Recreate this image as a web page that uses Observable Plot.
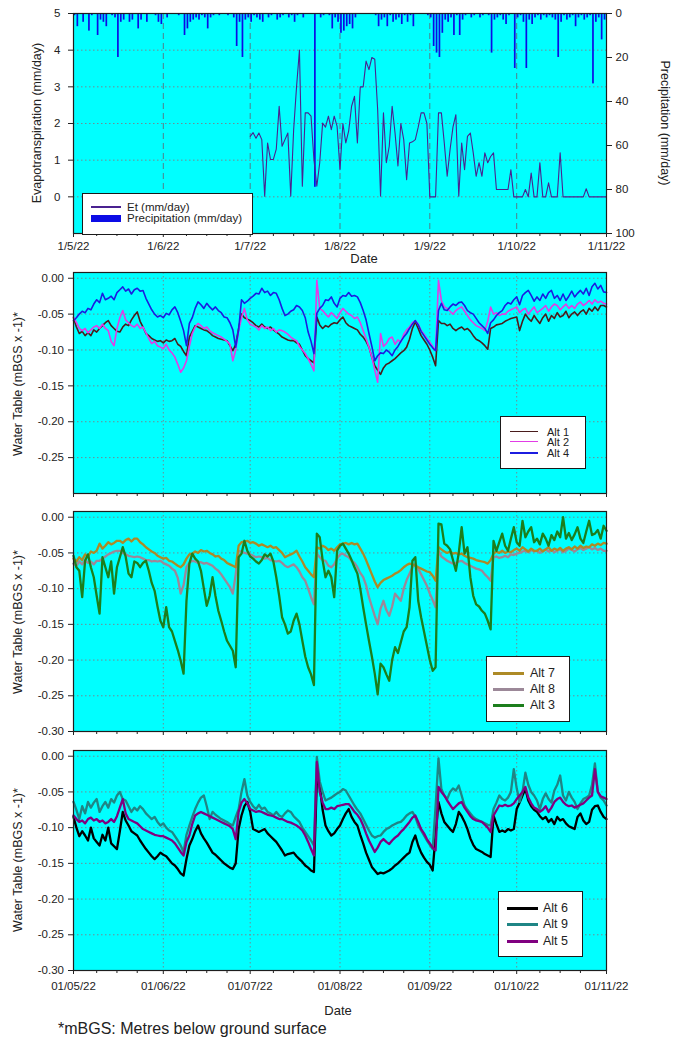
<!DOCTYPE html>
<html>
<head>
<meta charset="utf-8">
<script src="https://cdn.jsdelivr.net/npm/d3@7"></script>
<script src="https://cdn.jsdelivr.net/npm/@observablehq/plot@0.6"></script>
<style>
html,body{margin:0;padding:0;background:#fff;}
#root{position:relative;width:673px;height:1041px;overflow:hidden;font-family:"Liberation Sans",Arial,sans-serif;color:#222;}
.panel{position:absolute;left:0;}
.panel svg{overflow:visible;display:block;}
.lg{position:absolute;background:#fff;border:1px solid #1a1a1a;box-sizing:border-box;}
.lg .sw{position:absolute;}
.lg .tx{position:absolute;line-height:1;white-space:nowrap;transform:translateY(-50%);color:#222;}
.lbl{position:absolute;line-height:1;white-space:nowrap;transform:translate(-50%,-50%);color:#222;}
.cap{position:absolute;line-height:1;white-space:nowrap;color:#222;}
</style>
</head>
<body>
<div id="root"></div>
<script>
// ---------------- DATA ----------------
// daily values from 2022-05-01 (index 0) to 2022-11-01 (index 184)
const monthTicks = ["2022-05-01","2022-06-01","2022-07-01","2022-08-01","2022-09-01","2022-10-01","2022-11-01"];
const minorTickDates = ["2022-05-09","2022-05-16","2022-05-23","2022-06-09","2022-06-16","2022-06-23",
  "2022-07-09","2022-07-16","2022-07-23","2022-08-09","2022-08-16","2022-08-23",
  "2022-09-09","2022-09-16","2022-09-23","2022-10-09","2022-10-16","2022-10-23"];
const etTicks = [0, 1, 2, 3, 4, 5];
const precipTicks = [0, 20, 40, 60, 80, 100];
const wtTicks = [0, -0.05, -0.10, -0.15, -0.20, -0.25, -0.30];

// Evapotranspiration (mm/day), daily from 2022-07-01
const etStart = "2022-07-01";
const et = [
  1.65,1.75,1.6,1.74,1.56,0.02,1.47,1.02,1.02,1.3,
  2.47,1.38,1.56,1.74,0.02,1.83,3.0,4.0,0.29,2.29,
  2.29,2.2,1.02,0.29,0.93,2.01,1.9,2.2,1.83,2.2,
  1.92,0.74,2.0,1.47,1.8,2.47,2.74,1.47,3.0,3.0,
  3.7,3.47,3.8,3.75,2.38,0.02,2.29,0.93,1.38,2.47,
  1.74,0.84,2.0,1.56,0.47,1.47,1.5,1.56,1.9,2.29,
  2.29,2.0,0.0,0.0,0.0,2.29,2.29,1.47,0.56,1.29,
  1.9,2.24,0.02,1.47,0.74,1.65,1.74,1.2,0.56,0.93,
  0.56,1.2,0.93,1.1,1.2,0.2,0.2,0.2,0.2,0.2,
  0.74,0.0,0.0,0.0,0.0,0.2,0.0,0.65,0.0,0.0,
  0.93,0.0,0.0,0.38,0.0,0.0,0.0,1.2,0.0,0.0,
  0,0,0,0,0,0,0.22,0,0,0,
  0,0,0,0
];

// Precipitation (mm/day), daily from 2022-05-01 to 2022-10-31
const precip = [
  1,6,0,4,0,8,1,0,10,3,
  4,6,0,1,2,20,4,3,0,4,
  3,0,7,3,0,4,0,0,1,4,
  5,0,2,0,0,0,1,0,10,7,
  4,3,2,3,1,2,7,2,1,0,
  1,0,0,1,0,2,15,4,20,3,
  2,4,1,2,3,4,0,2,1,0,
  3,2,1,0,2,1,4,1,0,2,
  0,0,0,79,0,2,1,0,1,7,
  2,4,9,8,6,5,7,2,0,0,
  0,0,0,0,1,6,3,2,6,1,
  4,3,2,5,1,4,1,6,0,0,
  0,0,1,2,15,18,20,9,3,4,
  2,10,1,10,3,1,0,2,1,0,
  2,1,0,1,18,3,2,1,3,5,
  1,0,25,2,1,4,25,3,5,2,
  1,3,1,2,1,2,3,20,4,1,
  3,2,1,6,2,1,3,2,1,32,
  4,2,12,3
];

// Water table (mm below ground surface x -1), daily 2022-05-01 .. 2022-11-01
const alt1 = [
  -55,-68,-77,-74,-80,-76,-80,-72,-75,-70,
  -66,-62,-59,-66,-70,-74,-75,-68,-64,-66,
  -58,-52,-47,-60,-68,-77,-80,-84,-86,-88,
  -87,-90,-86,-88,-87,-84,-92,-95,-102,-108,
  -82,-74,-66,-68,-70,-72,-73,-76,-80,-82,
  -84,-85,-86,-87,-94,-101,-92,-70,-50,-55,
  -57,-59,-62,-66,-68,-64,-68,-70,-68,-72,
  -75,-78,-82,-84,-86,-87,-87,-90,-92,-100,
  -108,-112,-115,-118,-54,-65,-70,-66,-68,-64,
  -62,-63,-58,-54,-62,-66,-68,-70,-72,-78,
  -82,-88,-96,-110,-122,-128,-134,-125,-120,-118,
  -115,-112,-108,-104,-101,-96,-85,-70,-61,-70,
  -80,-86,-92,-100,-110,-122,-59,-63,-63,-66,
  -64,-70,-73,-70,-68,-72,-70,-74,-80,-85,
  -87,-90,-94,-99,-70,-68,-65,-64,-63,-60,
  -58,-56,-55,-54,-73,-60,-50,-56,-60,-52,
  -58,-63,-55,-50,-60,-52,-56,-48,-54,-52,
  -46,-55,-50,-47,-52,-47,-44,-50,-42,-46,
  -40,-45,-38,-38,-40
];
const alt2 = [
  -54,-62,-70,-73,-70,-76,-72,-68,-66,-70,
  -64,-70,-73,-88,-94,-70,-55,-45,-58,-62,
  -66,-68,-64,-70,-68,-76,-84,-91,-88,-94,
  -96,-98,-92,-100,-104,-110,-120,-131,-125,-115,
  -95,-77,-68,-63,-66,-70,-68,-73,-76,-78,
  -80,-82,-85,-88,-92,-115,-100,-73,-55,-42,
  -58,-64,-66,-68,-72,-66,-70,-68,-73,-70,
  -75,-72,-73,-75,-78,-82,-85,-87,-95,-100,
  -105,-112,-120,-129,-3,-42,-45,-50,-54,-48,
  -52,-56,-48,-42,-46,-50,-52,-56,-54,-62,
  -73,-84,-96,-110,-128,-145,-77,-95,-91,-84,
  -82,-92,-86,-89,-78,-72,-68,-62,-59,-64,
  -73,-78,-84,-89,-95,-101,-3,-31,-40,-42,
  -46,-50,-45,-42,-40,-46,-52,-58,-62,-66,
  -68,-70,-73,-60,-40,-50,-48,-52,-50,-50,
  -46,-44,-42,-40,-48,-44,-42,-50,-45,-40,
  -48,-45,-42,-38,-46,-40,-36,-38,-44,-40,
  -36,-42,-38,-42,-36,-33,-38,-35,-31,-36,
  -30,-34,-32,-35,-36
];
const alt4 = [
  -59,-55,-50,-46,-48,-42,-44,-36,-30,-34,
  -21,-30,-28,-25,-30,-20,-16,-12,-18,-15,
  -22,-16,-14,-18,-17,-28,-36,-44,-50,-54,
  -52,-55,-49,-51,-44,-40,-48,-60,-73,-94,
  -63,-55,-42,-33,-37,-42,-35,-40,-44,-40,
  -45,-48,-54,-55,-62,-72,-96,-72,-30,-35,
  -32,-28,-25,-21,-22,-14,-20,-18,-24,-20,
  -21,-30,-42,-52,-50,-46,-44,-38,-40,-45,
  -55,-75,-88,-105,-49,-42,-38,-30,-31,-26,
  -35,-40,-28,-24,-25,-20,-25,-24,-26,-34,
  -45,-58,-77,-95,-115,-108,-104,-105,-100,-103,
  -108,-100,-95,-88,-82,-77,-70,-64,-59,-65,
  -74,-80,-86,-92,-97,-101,-45,-35,-44,-45,
  -40,-36,-38,-34,-33,-38,-45,-48,-50,-56,
  -62,-66,-70,-77,-62,-58,-52,-48,-45,-38,
  -34,-36,-30,-26,-37,-24,-20,-17,-24,-32,
  -26,-31,-22,-28,-20,-17,-28,-24,-31,-22,
  -31,-25,-18,-26,-21,-17,-22,-14,-24,-12,
  -7,-15,-10,-19,-20
];
const alt7 = [
  -58,-62,-56,-60,-52,-55,-48,-50,-47,-37,
  -44,-40,-35,-38,-36,-33,-33,-36,-32,-30,
  -34,-30,-30,-35,-38,-42,-45,-48,-50,-54,
  -56,-58,-57,-61,-62,-65,-68,-70,-66,-58,
  -52,-51,-48,-50,-46,-48,-47,-50,-52,-55,
  -54,-58,-60,-64,-66,-68,-70,-40,-35,-34,
  -33,-36,-35,-37,-40,-38,-40,-42,-40,-43,
  -42,-46,-50,-56,-54,-52,-50,-47,-55,-62,
  -70,-75,-80,-84,-42,-44,-40,-42,-46,-44,
  -47,-42,-38,-37,-36,-38,-36,-38,-37,-44,
  -51,-60,-70,-80,-90,-98,-92,-88,-86,-84,
  -82,-79,-77,-74,-70,-67,-65,-66,-68,-70,
  -72,-74,-76,-77,-82,-89,-42,-45,-48,-50,
  -48,-51,-50,-52,-51,-54,-56,-57,-58,-60,
  -61,-62,-63,-65,-60,-51,-48,-50,-47,-50,
  -48,-49,-46,-44,-47,-42,-45,-48,-44,-47,
  -47,-44,-48,-45,-42,-47,-44,-46,-43,-47,
  -44,-42,-45,-41,-44,-40,-43,-41,-42,-38,
  -40,-37,-39,-36,-37
];
const alt8 = [
  -65,-68,-62,-66,-60,-64,-62,-66,-61,-61,
  -58,-55,-52,-50,-48,-47,-47,-50,-52,-54,
  -55,-56,-55,-56,-58,-60,-60,-62,-61,-62,
  -61,-64,-66,-68,-72,-75,-85,-107,-95,-70,
  -64,-61,-62,-64,-63,-65,-64,-66,-68,-72,
  -75,-80,-86,-92,-98,-107,-80,-47,-48,-50,
  -51,-52,-54,-56,-55,-56,-58,-57,-60,-61,
  -62,-61,-64,-68,-70,-68,-66,-70,-76,-84,
  -89,-100,-112,-122,-51,-56,-60,-61,-68,-70,
  -66,-58,-52,-51,-54,-56,-61,-64,-70,-78,
  -84,-95,-112,-125,-138,-150,-128,-117,-130,-138,
  -125,-107,-112,-117,-100,-88,-79,-70,-65,-72,
  -80,-88,-96,-107,-116,-126,-47,-55,-58,-61,
  -63,-65,-64,-62,-61,-64,-66,-68,-70,-72,
  -73,-75,-80,-84,-89,-56,-55,-57,-56,-54,
  -56,-52,-53,-51,-50,-48,-47,-49,-46,-48,
  -47,-50,-47,-45,-48,-46,-49,-47,-45,-49,
  -47,-44,-46,-48,-45,-43,-46,-44,-42,-45,
  -43,-46,-44,-47,-47
];
const alt3 = [
  -54,-70,-75,-112,-61,-52,-70,-84,-110,-135,
  -56,-70,-84,-62,-107,-70,-56,-42,-55,-79,
  -84,-62,-64,-70,-64,-61,-75,-92,-103,-125,
  -145,-154,-126,-154,-160,-173,-186,-201,-219,-117,
  -65,-51,-58,-62,-75,-100,-124,-110,-84,-110,
  -131,-145,-160,-173,-180,-187,-210,-56,-51,-33,
  -47,-55,-58,-62,-65,-60,-52,-55,-51,-62,
  -84,-110,-140,-150,-163,-160,-145,-135,-150,-173,
  -195,-210,-220,-235,-23,-28,-60,-84,-75,-84,
  -112,-47,-40,-37,-44,-51,-60,-70,-79,-100,
  -126,-150,-173,-195,-219,-248,-205,-210,-220,-229,
  -200,-182,-190,-175,-160,-154,-126,-61,-56,-117,
  -140,-160,-180,-200,-215,-210,-9,-10,-37,-40,
  -45,-60,-75,-50,-14,-51,-42,-84,-110,-122,
  -125,-131,-135,-145,-157,-33,-47,-35,-23,-40,
  -47,-30,-14,-35,-40,-5,-28,-20,-14,-35,
  -30,-38,-23,-30,-40,-25,-32,-20,-28,0,
  -30,-22,-32,-24,-14,-30,-36,-20,-5,-25,
  -23,-18,-30,-12,-19
];
const alt6 = [
  -85,-100,-112,-105,-111,-118,-100,-115,-120,-125,
  -110,-118,-100,-122,-126,-130,-105,-78,-90,-97,
  -105,-108,-111,-118,-124,-130,-135,-140,-144,-140,
  -135,-138,-140,-145,-150,-153,-158,-164,-167,-144,
  -125,-116,-105,-97,-108,-115,-121,-128,-135,-138,
  -142,-146,-150,-153,-156,-158,-150,-102,-83,-70,
  -64,-78,-102,-104,-106,-104,-102,-108,-112,-116,
  -120,-126,-132,-139,-137,-136,-135,-140,-144,-148,
  -153,-156,-160,-162,-35,-41,-75,-97,-105,-111,
  -108,-102,-97,-88,-80,-74,-85,-92,-97,-110,
  -122,-135,-145,-155,-160,-165,-163,-164,-162,-160,
  -157,-153,-150,-146,-142,-138,-135,-120,-111,-125,
  -135,-142,-148,-152,-160,-110,-64,-80,-92,-97,
  -102,-106,-95,-78,-84,-92,-102,-115,-124,-130,
  -132,-134,-137,-139,-141,-83,-95,-106,-104,-106,
  -102,-104,-102,-74,-65,-55,-46,-62,-70,-75,
  -78,-84,-88,-85,-92,-88,-95,-85,-90,-88,
  -94,-98,-100,-102,-85,-80,-90,-95,-92,-75,
  -70,-69,-78,-85,-88
];
const alt9 = [
  -64,-75,-88,-70,-80,-64,-72,-65,-60,-78,
  -70,-64,-72,-60,-65,-55,-50,-60,-62,-70,
  -78,-72,-76,-70,-74,-80,-84,-88,-85,-92,
  -97,-94,-100,-104,-106,-112,-118,-125,-134,-110,
  -97,-85,-74,-65,-58,-55,-70,-88,-78,-82,
  -85,-88,-90,-92,-95,-97,-85,-74,-50,-32,
  -55,-64,-70,-74,-68,-74,-72,-78,-80,-83,
  -78,-83,-85,-80,-76,-78,-84,-88,-92,-100,
  -106,-112,-118,-125,-1,-35,-50,-62,-60,-58,
  -55,-52,-50,-46,-48,-55,-62,-69,-75,-80,
  -88,-96,-104,-111,-114,-112,-111,-106,-102,-100,
  -97,-95,-93,-92,-88,-83,-80,-78,-85,-97,
  -104,-111,-118,-124,-130,-70,-3,-46,-55,-60,
  -50,-45,-48,-41,-55,-69,-75,-80,-85,-88,
  -90,-92,-94,-96,-97,-74,-65,-55,-60,-62,
  -58,-50,-18,-45,-64,-50,-23,-40,-50,-55,
  -62,-74,-60,-52,-60,-65,-48,-40,-27,-55,
  -62,-50,-58,-64,-74,-66,-60,-58,-55,-40,
  -10,-50,-58,-62,-69
];
const alt5 = [
  -83,-88,-92,-90,-94,-88,-86,-90,-88,-92,
  -90,-94,-92,-88,-92,-84,-72,-60,-80,-88,
  -90,-92,-94,-98,-102,-104,-106,-108,-110,-111,
  -112,-112,-114,-116,-118,-122,-128,-134,-139,-120,
  -111,-95,-83,-80,-78,-80,-82,-84,-86,-88,
  -90,-92,-94,-96,-98,-102,-116,-78,-65,-60,
  -66,-74,-76,-78,-77,-78,-80,-82,-83,-84,
  -86,-88,-88,-90,-92,-93,-95,-97,-100,-104,
  -111,-120,-130,-139,-8,-50,-65,-74,-74,-72,
  -74,-70,-69,-68,-67,-67,-72,-78,-82,-88,
  -97,-108,-118,-126,-134,-128,-120,-116,-120,-123,
  -118,-114,-111,-106,-102,-97,-92,-86,-83,-92,
  -102,-108,-116,-122,-128,-132,-43,-50,-55,-62,
  -68,-74,-70,-66,-64,-72,-78,-84,-88,-90,
  -91,-92,-96,-100,-106,-83,-76,-69,-70,-68,
  -70,-69,-66,-60,-55,-50,-43,-58,-66,-72,
  -74,-78,-75,-70,-78,-72,-64,-60,-58,-64,
  -68,-70,-69,-72,-70,-68,-66,-62,-58,-55,
  -18,-50,-56,-58,-60
];

// ---------------- SETUP ----------------
const FONT = '"Liberation Sans", Arial, sans-serif';
const CYAN = "#00FFFF";
const GRID = "#6f8c94";
const ET_COLOR = "#4a2290";
const PRECIP_COLOR = "#0c0ce6";
const W = 673, ML = 73, MR = 67;
const root = document.getElementById("root");

const startDay = new Date(Date.UTC(2022, 4, 1));
const endDay = new Date(Date.UTC(2022, 10, 1));
const days = d3.utcDay.range(startDay, d3.utcDay.offset(endDay, 1));
const parse = s => new Date(s + "T00:00:00Z");
const monthDates = monthTicks.map(parse);
const gridMonths = monthDates.slice(1, -1);
const minorDates = minorTickDates.map(parse);
const etStartIdx = d3.utcDay.count(startDay, parse(etStart));

const rowsOf = (values, offset = 0, scale = 1) =>
  values.map((v, i) => ({date: days[offset + i], value: v * scale})).filter(d => d.date);

const styleBase = {fontFamily: FONT, fontSize: "11.5px", color: "#222", background: "transparent", overflow: "visible"};

function place(svg, top) {
  const div = document.createElement("div");
  div.className = "panel";
  div.style.top = top + "px";
  div.appendChild(svg);
  root.appendChild(div);
}

// ---------------- PANEL 1 ----------------
const etRows = rowsOf(et, etStartIdx);
const precipRows = precip.map((p, i) => ({date: days[i], p})).filter(d => d.p > 0);
const pToY = p => 5 - p * 0.06;  // right-hand axis: 0 mm at top (5), 100 mm at bottom (-1)

const p1 = Plot.plot({
  width: W, height: 270, marginLeft: ML, marginRight: MR, marginTop: 13, marginBottom: 37,
  x: {type: "utc", domain: [startDay, endDay]},
  y: {domain: [-1, 5]},
  style: styleBase,
  marks: [
    Plot.frame({fill: CYAN, stroke: "none"}),
    Plot.ruleY(etTicks.slice(0, 5), {stroke: GRID, strokeDasharray: "1.5,2.5"}),
    Plot.ruleX(gridMonths, {stroke: "#4f7f8a", strokeDasharray: "6,4"}),
    Plot.rect(precipRows, {
      x1: "date", x2: d => d3.utcDay.offset(d.date, 1),
      y1: () => 5, y2: d => pToY(d.p),
      fill: PRECIP_COLOR, insetLeft: 0.6, insetRight: 0.6
    }),
    Plot.line(etRows, {x: "date", y: "value", stroke: ET_COLOR, strokeWidth: 1.1}),
    Plot.frame({stroke: "#1e1e1e", strokeWidth: 1.2}),
    Plot.axisY(etTicks, {anchor: "left", tickSize: 5, tickPadding: 8, label: null}),
    Plot.axisY(precipTicks.map(pToY), {anchor: "right", tickSize: 5, tickPadding: 4,
      tickFormat: y => String(Math.round((5 - y) / 0.06)), label: null}),
    Plot.axisX(monthDates, {anchor: "bottom", tickSize: 4, tickPadding: 4.5,
      tickFormat: d => `1/${d.getUTCMonth() + 1}/22`, label: null}),
    Plot.axisX(minorDates, {anchor: "bottom", tickSize: 3, tickFormat: () => "", label: null})
  ]
});
place(p1, 0);

// ---------------- WATER TABLE PANELS ----------------
const WT_LABEL = "Water Table (mBGS x -1)*";
function wtPanel(cfg) {
  return Plot.plot({
    width: W, height: cfg.height, marginLeft: ML, marginRight: MR, marginTop: cfg.mt, marginBottom: cfg.mb,
    x: {type: "utc", domain: [startDay, endDay]},
    y: {domain: [-0.30, 0.008]},
    style: styleBase,
    marks: [
      Plot.frame({fill: CYAN, stroke: "none"}),
      Plot.ruleY(wtTicks.slice(0, 6), {stroke: GRID, strokeDasharray: "1.5,2.5"}),
      Plot.ruleX(gridMonths, {stroke: GRID, strokeDasharray: "1.5,2.5"}),
      ...cfg.series.map(s => Plot.line(rowsOf(s.values, 0, 0.001),
        {x: "date", y: "value", stroke: s.color, strokeWidth: cfg.lw, strokeLinejoin: "round"})),
      Plot.frame({stroke: "#1e1e1e", strokeWidth: 1.2}),
      Plot.axisY(cfg.yTicks, {anchor: "left", tickSize: 5, tickPadding: 4.5, tickFormat: v => v.toFixed(2), label: null}),
      Plot.axisX(monthDates, {anchor: "bottom", tickSize: 4, tickPadding: 7.5, tickFormat: cfg.xFormat, label: null}),
      Plot.axisX(minorDates, {anchor: "bottom", tickSize: 3, tickFormat: () => "", label: null})
    ]
  });
}

const panel2Series = [
  {name: "Alt 1", values: alt1, color: "#4a1c1c"},
  {name: "Alt 2", values: alt2, color: "#e23ce6"},
  {name: "Alt 4", values: alt4, color: "#1c1ce0"}
];
const panel3Series = [
  {name: "Alt 7", values: alt7, color: "#ad8a26"},
  {name: "Alt 8", values: alt8, color: "#9c8898"},
  {name: "Alt 3", values: alt3, color: "#1c7e1c"}
];
const panel4Series = [
  {name: "Alt 6", values: alt6, color: "#000000"},
  {name: "Alt 9", values: alt9, color: "#1f8585"},
  {name: "Alt 5", values: alt5, color: "#800080"}
];
const drawOrder3 = [panel3Series[1], panel3Series[0], panel3Series[2]];

place(wtPanel({height: 240, mt: 10, mb: 9, lw: 1.6, series: panel2Series,
  yTicks: wtTicks.slice(0, 6), xFormat: () => ""}), 262);
place(wtPanel({height: 240, mt: 9, mb: 11, lw: 2.3, series: drawOrder3,
  yTicks: wtTicks, xFormat: () => ""}), 502);
place(wtPanel({height: 280, mt: 8, mb: 52, lw: 2.3, series: panel4Series,
  yTicks: wtTicks, xFormat: d3.utcFormat("%d/%m/%y")}), 742);

// ---------------- LEGENDS & LABELS ----------------
function addLegend(box, rows) {
  const d = document.createElement("div");
  d.className = "lg";
  Object.assign(d.style, {left: box.left + "px", top: box.top + "px", width: box.w + "px", height: box.h + "px"});
  rows.forEach(r => {
    const sw = document.createElement("div");
    sw.className = "sw";
    Object.assign(sw.style, {left: r.lx + "px", top: (r.y - r.lh / 2) + "px", width: r.lw + "px", height: r.lh + "px", background: r.color});
    const tx = document.createElement("div");
    tx.className = "tx";
    tx.textContent = r.label;
    Object.assign(tx.style, {left: r.tx + "px", top: r.ty + "px", fontSize: r.fs + "px"});
    d.append(sw, tx);
  });
  root.appendChild(d);
}

addLegend({left: 82, top: 193, w: 171, h: 42}, [
  {label: "Et (mm/day)", color: ET_COLOR, lx: 8, lw: 30, y: 13, lh: 1.4, tx: 44, ty: 13.5, fs: 11.5},
  {label: "Precipitation (mm/day)", color: PRECIP_COLOR, lx: 8, lw: 30, y: 24.5, lh: 7, tx: 44, ty: 24.5, fs: 11.5}
]);

const legRows = (series, ys, o) => series.map((s, i) => ({label: s.name, color: s.color, lx: o.lx, lw: o.lw,
  y: ys[i], lh: o.lh, tx: o.tx, ty: ys[i], fs: o.fs}));

addLegend({left: 500, top: 416, w: 86, h: 53}, legRows(panel2Series, [14.7, 24.7, 36], {lx: 9, lw: 28, lh: 1.6, tx: 46, fs: 11}));
addLegend({left: 486, top: 656, w: 84, h: 66}, legRows(panel3Series, [16, 32, 48], {lx: 6, lw: 31, lh: 3, tx: 43, fs: 12.5}));
addLegend({left: 498, top: 891, w: 85, h: 66}, legRows(panel4Series, [16, 32.3, 49], {lx: 8, lw: 31, lh: 3, tx: 44, fs: 12.5}));

function addLabel(text, x, y, fs, rot) {
  const d = document.createElement("div");
  d.className = "lbl";
  d.textContent = text;
  Object.assign(d.style, {left: x + "px", top: y + "px", fontSize: fs + "px"});
  if (rot) d.style.transform = `translate(-50%,-50%) rotate(${rot}deg)`;
  root.appendChild(d);
}
addLabel("Date", 364, 258, 13);
addLabel("Date", 338, 1010, 13);
addLabel("Evapotranspiration (mm/day)", 37, 123, 12.5, -90);
addLabel("Precipitation (mm/day)", 665, 123, 12.5, 90);
addLabel(WT_LABEL, 18, 384, 12.5, -90);
addLabel(WT_LABEL, 18, 622, 12.5, -90);
addLabel(WT_LABEL, 18, 860, 12.5, -90);

const cap = document.createElement("div");
cap.className = "cap";
cap.textContent = "*mBGS: Metres below ground surface";
Object.assign(cap.style, {left: "58px", top: "1021px", fontSize: "16px"});
root.appendChild(cap);
</script>
</body>
</html>
